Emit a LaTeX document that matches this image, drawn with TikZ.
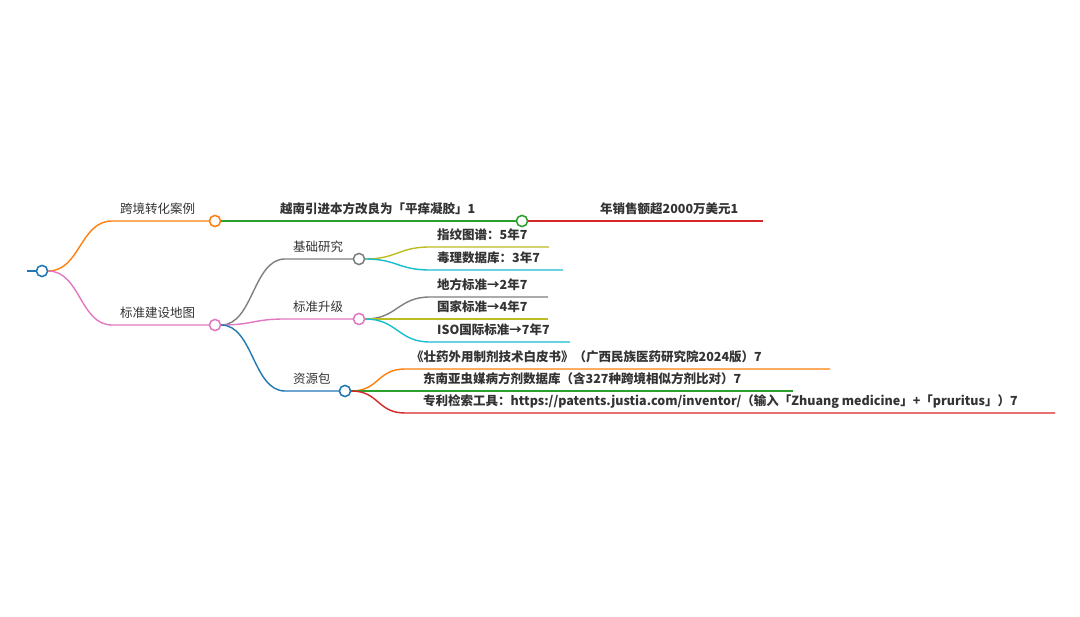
\documentclass[tikz,border=0pt]{standalone}
\usepackage{fontspec}
\setmainfont{Noto Sans CJK SC}
\definecolor{cblue}{HTML}{1F77B4}
\definecolor{corange}{HTML}{FF7F0E}
\definecolor{cgreen}{HTML}{2CA02C}
\definecolor{cred}{HTML}{D62728}
\definecolor{cpink}{HTML}{E377C2}
\definecolor{cgray}{HTML}{7F7F7F}
\definecolor{colive}{HTML}{BCBD22}
\definecolor{ccyan}{HTML}{17BECF}
\definecolor{ctext}{HTML}{333333}
\tikzset{
  lnk/.style={line width=1.4pt},
  dot/.style={circle,draw,fill=white,line width=1.4pt,minimum size=11pt,inner sep=0pt},
  lbl/.style={anchor=base west,inner sep=0pt,text=ctext,font=\fontsize{12.5}{15}\selectfont},
  leaf/.style={lbl,font=\fontsize{12.5}{15}\selectfont\bfseries},
}
\begin{document}
\begin{tikzpicture}[x=1pt,y=-1pt]
\useasboundingbox[fill=white] (0,0) rectangle (1080,617);
% coordinates
\coordinate (r0) at (27,271);
\node[dot,draw=cblue] (r) at (42,271) {};
\coordinate (As) at (112,221);
\node[dot,draw=corange] (A) at (215,221) {};
\coordinate (Bs) at (112,325);
\node[dot,draw=cpink] (B) at (215,325) {};
\node[dot,draw=cgreen] (A1) at (522,221) {};
\coordinate (A1e) at (763,221);
\coordinate (B1s) at (285,259);
\node[dot,draw=cgray] (B1) at (359,259) {};
\coordinate (B2s) at (285,319);
\node[dot,draw=cpink] (B2) at (359,319) {};
\coordinate (B3s) at (285,391);
\node[dot,draw=cblue] (B3) at (345,391) {};
\coordinate (L1s) at (430,247); \coordinate (L1e) at (549,247);
\coordinate (L2s) at (430,270); \coordinate (L2e) at (563,270);
\coordinate (L3s) at (430,297); \coordinate (L3e) at (548,297);
\coordinate (L4s) at (430,319); \coordinate (L4e) at (548,319);
\coordinate (L5s) at (430,342); \coordinate (L5e) at (570,342);
\coordinate (R1s) at (405,369); \coordinate (R1e) at (830,369);
\coordinate (R2s) at (405,391); \coordinate (R2e) at (793,391);
\coordinate (R3s) at (405,413); \coordinate (R3e) at (1055,413);
% links
\draw[lnk,cblue] (r0) -- (r.west);
\draw[lnk,corange] (r.east) .. controls +(32,0) and +(-32,0) .. (As) -- (A.west);
\draw[lnk,cpink] (r.east) .. controls +(32,0) and +(-32,0) .. (Bs) -- (B.west);
\draw[lnk,cgreen] (A.east) -- (A1.west);
\draw[lnk,cred] (A1.east) -- (A1e);
\draw[lnk,cgray] (B.east) .. controls +(32,0) and +(-32,0) .. (B1s) -- (B1.west);
\draw[lnk,cpink] (B.east) .. controls +(32,0) and +(-32,0) .. (B2s) -- (B2.west);
\draw[lnk,cblue] (B.east) .. controls +(32,0) and +(-32,0) .. (B3s) -- (B3.west);
\draw[lnk,colive] (B1.east) .. controls +(32,0) and +(-32,0) .. (L1s) -- (L1e);
\draw[lnk,ccyan] (B1.east) .. controls +(32,0) and +(-32,0) .. (L2s) -- (L2e);
\draw[lnk,cgray] (B2.east) .. controls +(32,0) and +(-32,0) .. (L3s) -- (L3e);
\draw[lnk,colive] (B2.east) .. controls +(32,0) and +(-32,0) .. (L4s) -- (L4e);
\draw[lnk,ccyan] (B2.east) .. controls +(32,0) and +(-32,0) .. (L5s) -- (L5e);
\draw[lnk,corange] (B3.east) .. controls +(28,0) and +(-28,0) .. (R1s) -- (R1e);
\draw[lnk,cgreen] (B3.east) -- (R2e);
\draw[lnk,cred] (B3.east) .. controls +(28,0) and +(-28,0) .. (R3s) -- (R3e);
% redraw dots on top
\node[dot,draw=cblue] at (r) {};
\node[dot,draw=corange] at (A) {};
\node[dot,draw=cpink] at (B) {};
\node[dot,draw=cgreen] at (A1) {};
\node[dot,draw=cgray] at (B1) {};
\node[dot,draw=cpink] at (B2) {};
\node[dot,draw=cblue] at (B3) {};
% labels
\node[lbl] (tA) at (120,214) {跨境转化案例};
\node[lbl] (tB) at (120,318) {标准建设地图};
\node[leaf] (tA1) at (280,214) {越南引进本方改良为「平痒凝胶」1};
\node[leaf] (tA1a) at (600,214) {年销售额超2000万美元1};
\node[lbl] (tB1) at (293,252) {基础研究};
\node[lbl] (tB2) at (293,312) {标准升级};
\node[lbl] (tB3) at (293,384) {资源包};
\node[leaf] (tL1) at (437,240) {指纹图谱：5年7};
\node[leaf] (tL2) at (437,263) {毒理数据库：3年7};
\node[leaf] (tL3) at (437,290) {地方标准→2年7};
\node[leaf] (tL4) at (437,312) {国家标准→4年7};
\node[leaf] (tL5) at (437,335) {ISO国际标准→7年7};
\node[leaf] (tR1) at (411,362) {《壮药外用制剂技术白皮书》（广西民族医药研究院2024版）7};
\node[leaf] (tR2) at (423,384) {东南亚虫媒病方剂数据库（含327种跨境相似方剂比对）7};
\node[leaf] (tR3) at (423,406) {专利检索工具：https://patents.justia.com/inventor/（输入「Zhuang medicine」+「pruritus」）7};
\end{tikzpicture}
\end{document}
